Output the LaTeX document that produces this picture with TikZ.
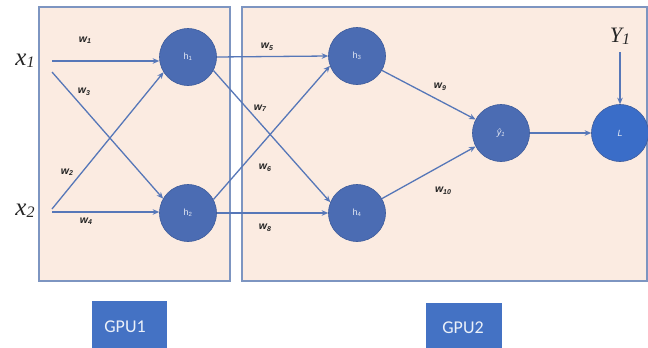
\documentclass[tikz,border=0pt]{standalone}
\usepackage{fontspec}
\setmainfont{Liberation Serif}
\setsansfont{Liberation Sans}
\newfontfamily\gpufont{Carlito}
\usetikzlibrary{arrows.meta}
\definecolor{panelfill}{HTML}{FBEBE1}
\definecolor{paneledge}{HTML}{7D95C1}
\definecolor{neuron}{HTML}{4B6CB3}
\definecolor{neuronedge}{HTML}{3E5C9C}
\definecolor{lossfill}{HTML}{3A6DC8}
\definecolor{wire}{HTML}{5677B8}
\definecolor{gpublue}{HTML}{4472C4}
\definecolor{labeltext}{HTML}{222222}
\newcommand{\wlab}[1]{{\sffamily\bfseries\itshape w\raisebox{-1.5pt}{\fontsize{7}{7}\selectfont #1}}}
\newcommand{\varlab}[2]{{\itshape #1\raisebox{-2pt}{\fontsize{16}{16}\selectfont #2}}}
\tikzset{
  panel/.style={draw=paneledge, fill=panelfill, line width=1.3pt},
  neuronnode/.style={circle, draw=neuronedge, line width=0.6pt, fill=neuron, minimum size=57pt, inner sep=0pt,
    text=white!85!neuron, font=\sffamily\fontsize{9}{9}\selectfont},
  lossnode/.style={neuronnode, fill=lossfill},
  conn/.style={draw=wire, line width=1.3pt, -{Stealth[length=6.5pt,width=5.5pt]}},
  wlabel/.style={text=labeltext, font=\fontsize{10.5}{10.5}\selectfont},
  inlabel/.style={text=black!85, font=\fontsize{25}{25}\selectfont},
  gpubox/.style={fill=gpublue, inner sep=0pt, anchor=north west},
  gputext/.style={text=white!90!gpublue, font=\gpufont\fontsize{18}{18}\selectfont}
}
\begin{document}
\begin{tikzpicture}[x=1pt,y=-1pt]
\useasboundingbox (0,0) rectangle (648,348);
\fill[white] (0,0) rectangle (648,348);

% the two device panels
\draw[panel] (39,7) rectangle (230,281);
\draw[panel] (242,7) rectangle (647,281);

% inputs
\node[inlabel] (x1) at (25,61) {\varlab{x}{1}};
\node[inlabel] (x2) at (25,211) {\varlab{x}{2}};
\coordinate (x1a) at (52,61);
\coordinate (x1b) at (52,72);
\coordinate (x2a) at (52,209);
\coordinate (x2b) at (52,212);

% neurons
\node[neuronnode] (h1) at (188,57) {h\textsubscript{1}};
\node[neuronnode] (h2) at (188,213) {h\textsubscript{2}};
\node[neuronnode] (h3) at (357,56) {h\textsubscript{3}};
\node[neuronnode] (h4) at (357,213) {h\textsubscript{4}};
\node[neuronnode] (yh) at (501,133) {\itshape\^{y}\textsubscript{1}};
\node[lossnode] (L) at (620,133) {\itshape L};
\node[text=black!85, font=\fontsize{22}{22}\selectfont] (Y1) at (620,36) {\varlab{Y}{1}};
\coordinate (ytop) at (620,52);

% layer 1 connections
\draw[conn] (x1a) -- (h1.west |- x1a);
\draw[conn] (x1b) -- (h2.150);
\draw[conn] (x2a) -- (h1.212);
\draw[conn] (x2b) -- (h2.west |- x2b);

% layer 2 connections
\draw[conn] (h1.east) -- (h3.west);
\draw[conn] (h1.-28) -- (h4.158);
\draw[conn] (h2.28) -- (h3.200);
\draw[conn] (h2.east) -- (h4.west);

% output connections
\draw[conn] (h3.-30) -- (yh.152);
\draw[conn] (h4.30) -- (yh.208);
\draw[conn] (yh.east) -- (L.west);
\draw[conn] (ytop) -- (L.north);

% weight labels
\node[wlabel] (w1) at (85,40) {\wlab{1}};
\node[wlabel] (w3) at (84,92) {\wlab{3}};
\node[wlabel] (w2) at (67,172) {\wlab{2}};
\node[wlabel] (w4) at (86,221) {\wlab{4}};
\node[wlabel] (w5) at (267,47) {\wlab{5}};
\node[wlabel] (w7) at (260,108) {\wlab{7}};
\node[wlabel] (w6) at (265,168) {\wlab{6}};
\node[wlabel] (w8) at (265,228) {\wlab{8}};
\node[wlabel] (w9) at (440,87) {\wlab{9}};
\node[wlabel] (w10) at (443,191) {\wlab{10}};

% device tags
\node[gpubox, minimum width=75pt, minimum height=50pt] (gpu1) at (92,301) {};
\node[gputext] (gpu1t) at (125,327) {GPU1};
\node[gpubox, minimum width=76pt, minimum height=48pt] (gpu2) at (426,303) {};
\node[gputext] (gpu2t) at (463,328) {GPU2};
\end{tikzpicture}
\end{document}
